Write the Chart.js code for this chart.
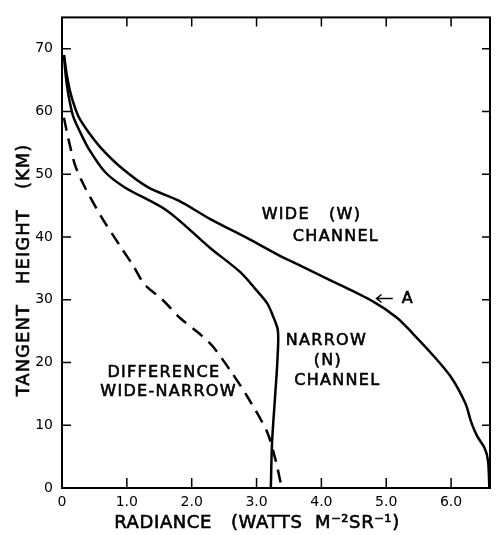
<!DOCTYPE html>
<html>
<head>
<meta charset="utf-8">
<script src="https://cdn.jsdelivr.net/npm/chart.js@4.4.1/dist/chart.umd.min.js"></script>
<style>
  body { margin: 0; background: #fff; }
</style>
</head>
<body>
<canvas id="chart" width="496" height="535"></canvas>
<script>
// radiance (W m-2 sr-1) vs tangent height (km)
var wideRad   = [0.03, 0.08, 0.14, 0.25, 0.41, 0.61, 0.92, 1.33, 1.80, 2.28, 2.90, 3.36, 3.62, 4.14, 4.80, 5.17, 5.42, 5.70, 5.99, 6.22, 6.31, 6.40, 6.52, 6.57, 6.59];
var wideH     = [69.0, 65.5, 62.6, 59.3, 56.7, 54.1, 51.0, 47.9, 45.8, 42.9, 39.6, 37.0, 35.7, 33.1, 29.7, 27.1, 24.5, 21.4, 17.8, 13.5, 10.5, 8.3, 6.3, 4.3, 0];

var narrowRad = [0.03, 0.06, 0.10, 0.17, 0.28, 0.41, 0.66, 0.97, 1.62, 2.28, 2.75, 3.00, 3.16, 3.25, 3.33, 3.32, 3.29, 3.24, 3.22];
var narrowH   = [69.0, 65.5, 62.6, 59.3, 56.7, 54.1, 50.4, 47.9, 44.2, 38.3, 34.4, 31.5, 29.5, 27.5, 25.0, 20.0, 15.2, 7.4, 0];

var diffRad   = [0.03, 0.10, 0.20, 0.33, 0.59, 0.90, 1.10, 1.27, 1.55, 1.82, 2.13, 2.33, 2.59, 2.85, 3.16, 3.28, 3.39];
var diffH     = [59.0, 55.6, 51.5, 48.4, 43.5, 38.5, 35.4, 32.5, 30.0, 27.1, 24.5, 22.5, 18.8, 14.7, 9.0, 5.0, 0];

var xTicks = [0, 1, 2, 3, 4, 5, 6];
var yTicks = [0, 10, 20, 30, 40, 50, 60, 70];

function pts(xs, ys) {
  return xs.map(function (x, i) { return { x: x, y: ys[i] }; });
}

var FONT = '"DejaVu Sans", sans-serif';

function drawText(ctx, s, x, y, size, spacing, align) {
  ctx.save();
  ctx.font = size + 'px ' + FONT;
  ctx.letterSpacing = (spacing || 0) + 'px';
  ctx.textAlign = align || 'left';
  ctx.textBaseline = 'middle';
  ctx.fillStyle = '#000';
  ctx.strokeStyle = '#000';
  ctx.lineWidth = 0.6;
  ctx.fillText(s, x, y);
  ctx.strokeText(s, x, y);
  ctx.restore();
}

// text placed in data coordinates
var notes = [
  ['WIDE   (W)', 3.08, 43.5, 'left'],
  ['CHANNEL', 3.56, 40.1, 'left'],
  ['NARROW', 3.45, 23.5, 'left'],
  ['(N)', 4.10, 20.2, 'center'],
  ['CHANNEL', 3.58, 17.1, 'left'],
  ['DIFFERENCE', 0.70, 18.3, 'left'],
  ['WIDE-NARROW', 0.59, 15.3, 'left'],
  ['A', 5.24, 30.2, 'left']
];

var framePlugin = {
  id: 'frame',
  afterDraw: function (chart) {
    var ctx = chart.ctx, a = chart.chartArea;
    var xs = chart.scales.x, ys = chart.scales.y;
    ctx.save();
    ctx.strokeStyle = '#000';
    ctx.lineWidth = 2;
    ctx.strokeRect(a.left, a.top, a.right - a.left, a.bottom - a.top);
    ctx.lineWidth = 1.5;
    ctx.beginPath();
    xTicks.forEach(function (v) {
      if (v === 0) return;
      var px = xs.getPixelForValue(v);
      ctx.moveTo(px, a.bottom); ctx.lineTo(px, a.bottom - 10);
      ctx.moveTo(px, a.top); ctx.lineTo(px, a.top + 9);
    });
    yTicks.forEach(function (v) {
      if (v === 0) return;
      var py = ys.getPixelForValue(v);
      ctx.moveTo(a.left, py); ctx.lineTo(a.left + 9, py);
      ctx.moveTo(a.right, py); ctx.lineTo(a.right - 8, py);
    });
    ctx.stroke();

    notes.forEach(function (n) {
      drawText(ctx, n[0], xs.getPixelForValue(n[1]), ys.getPixelForValue(n[2]), 16, 1.3, n[3]);
    });

    // arrow pointing at the wide-channel curve
    var ay = ys.getPixelForValue(30.2);
    var ax0 = xs.getPixelForValue(4.85), ax1 = xs.getPixelForValue(5.10);
    ctx.lineWidth = 1.5;
    ctx.beginPath();
    ctx.moveTo(ax1, ay); ctx.lineTo(ax0, ay);
    ctx.moveTo(ax0 + 5, ay - 4); ctx.lineTo(ax0, ay); ctx.lineTo(ax0 + 5, ay + 4);
    ctx.stroke();

    // axis titles
    drawText(ctx, 'RADIANCE   (WATTS  M\u207B\u00B2SR\u207B\u00B9)', 257, 523, 18, 0.6, 'center');
    ctx.translate(24, 270);
    ctx.rotate(-Math.PI / 2);
    drawText(ctx, 'TANGENT   HEIGHT   (KM)', 0, 0, 18, 1, 'center');
    ctx.restore();
  }
};

new Chart(document.getElementById('chart'), {
  type: 'scatter',
  data: {
    datasets: [{
      label: 'wide',
      data: pts(wideRad, wideH),
      showLine: true,
      borderColor: '#000',
      borderWidth: 2.5,
      pointRadius: 0,
      tension: 0.3
    }, {
      label: 'narrow',
      data: pts(narrowRad, narrowH),
      showLine: true,
      borderColor: '#000',
      borderWidth: 2.5,
      pointRadius: 0,
      tension: 0.3
    }, {
      label: 'difference',
      data: pts(diffRad, diffH),
      showLine: true,
      borderColor: '#000',
      borderWidth: 2.5,
      borderDash: [13, 8],
      pointRadius: 0,
      tension: 0.3
    }]
  },
  options: {
    responsive: false,
    animation: false,
    layout: { padding: { top: 6, right: 6, left: 0, bottom: 0 } },
    plugins: { legend: { display: false }, tooltip: { enabled: false } },
    scales: {
      x: {
        type: 'linear', min: 0, max: 6.6,
        afterFit: function (s) { s.height = 47; },
        grid: { display: false, drawTicks: false },
        border: { display: false },
        ticks: {
          stepSize: 1, includeBounds: false, padding: 6, maxRotation: 0,
          color: '#000', font: { family: FONT, size: 14 },
          callback: function (v) { return v === 0 ? '0' : v.toFixed(1); }
        }
      },
      y: {
        type: 'linear', min: 0, max: 75,
        afterFit: function (s) { s.width = 62; },
        grid: { display: false, drawTicks: false },
        border: { display: false },
        ticks: {
          stepSize: 10, includeBounds: false, padding: 9,
          color: '#000', font: { family: FONT, size: 14 }
        }
      }
    }
  },
  plugins: [framePlugin]
});
</script>
</body>
</html>
